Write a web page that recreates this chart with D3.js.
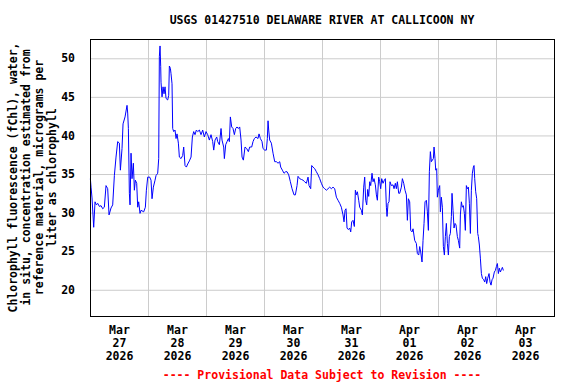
<!DOCTYPE html>
<html>
<head>
    <meta charset="utf-8">
    <style>
        body { margin: 0; background: #fff; }
        text { font-family: "DejaVu Sans Mono", monospace; font-weight: bold; }
    </style>
</head>
<body>
    <script src="https://cdn.jsdelivr.net/npm/d3@7"></script>
    <script>
        var chartTitle = "USGS 01427510 DELAWARE RIVER AT CALLICOON NY";
        var yTitleLines = [
            "Chlorophyll fluorescence (fChl), water,",
            "in situ, concentration estimated from",
            "reference material, micrograms per",
            "liter as chlorophyll"
        ];
        var footnote = "---- Provisional Data Subject to Revision ----";
        var dayLabels = ["Mar 27 2026", "Mar 28 2026", "Mar 29 2026", "Mar 30 2026",
                         "Mar 31 2026", "Apr 01 2026", "Apr 02 2026", "Apr 03 2026"];
        var yTicks = [20, 25, 30, 35, 40, 45, 50];

        // hours after 2026-03-27 00:00, and the reading at that time
        var hours = [
            0.15, 0.43, 0.84, 1.53, 2.08, 2.63, 3.19, 3.88, 4.57, 5.26, 5.94, 6.63, 7.32, 7.88,
            8.70, 9.39, 10.08, 10.77, 11.46, 12.15, 12.57, 13.25, 13.67, 14.50, 15.32, 15.60,
            15.88, 16.29, 16.57, 16.98, 17.39, 17.94, 18.36, 18.77, 19.32, 19.74, 20.15, 20.70,
            21.12, 22.22, 22.91, 23.33, 23.88, 24.70, 25.25, 25.67, 26.22, 26.91, 27.32, 28.01,
            28.43, 28.70, 28.98, 29.26, 29.39, 29.81, 30.22, 30.63, 31.05, 31.46, 32.15, 32.57,
            32.84, 33.26, 33.53, 33.94, 34.22, 34.63, 35.18, 35.60, 36.01, 36.57, 36.98, 37.67,
            38.36, 38.77, 39.32, 39.88, 40.43, 41.12, 41.81, 42.36, 42.91, 43.46, 44.01, 44.57,
            45.26, 45.94, 46.63, 47.32, 48.01, 48.70, 49.39, 50.08, 50.77, 51.19, 51.74, 52.43,
            52.84, 53.53, 54.22, 54.63, 55.32, 55.60, 56.15, 56.70, 57.26, 57.67, 58.08, 58.63,
            59.18, 59.74, 60.29, 60.84, 61.39, 61.94, 62.50, 62.91, 63.46, 64.15, 64.84, 65.53,
            66.08, 66.91, 67.46, 68.01, 68.70, 69.53, 69.94, 70.50, 71.18, 71.60, 72.29, 72.98,
            73.39, 73.67, 73.94, 74.36, 75.05, 75.74, 76.43, 77.12, 77.81, 78.50, 78.91, 79.60,
            80.29, 80.98, 81.53, 82.22, 82.91, 83.60, 84.43, 84.98, 85.67, 86.08, 86.77, 87.46,
            88.15, 88.84, 89.53, 90.22, 90.63, 91.32, 91.74, 92.29, 92.98, 93.67, 94.36, 95.05,
            95.74, 96.43, 97.12, 97.81, 98.50, 99.18, 99.88, 100.56, 101.25, 101.95, 102.63,
            103.32, 104.01, 104.70, 105.12, 105.53, 105.94, 106.36, 106.91, 107.46, 107.88,
            108.29, 108.84, 109.39, 109.81, 110.22, 110.64, 111.19, 111.60, 112.29, 112.70,
            113.25, 113.67, 114.08, 114.50, 114.91, 115.32, 115.74, 116.15, 116.70, 117.12,
            117.53, 118.08, 118.50, 118.91, 119.46, 119.87, 120.29, 120.70, 121.25, 121.81,
            122.22, 122.64, 122.91, 123.32, 123.74, 124.15, 124.70, 125.39, 125.81, 126.36,
            126.77, 127.19, 127.74, 128.15, 128.84, 129.26, 129.81, 130.36, 130.91, 131.33,
            131.74, 132.29, 132.70, 133.25, 133.67, 134.36, 135.05, 135.46, 136.01, 136.43,
            136.84, 137.39, 137.81, 138.22, 138.63, 139.19, 139.60, 140.02, 140.43, 140.84,
            141.26, 141.67, 142.08, 142.36, 142.77, 143.05, 143.46, 143.74, 144.15, 144.70,
            144.98, 145.39, 145.81, 146.22, 146.64, 147.05, 147.46, 147.88, 148.29, 148.70,
            149.12, 149.53, 149.80, 150.22, 150.63, 151.05, 151.46, 152.01, 152.43, 152.98,
            153.26, 153.67, 154.08, 154.50, 154.91, 155.32, 155.74, 156.15, 156.57, 156.98,
            157.40, 157.81, 158.22, 158.64, 158.91, 159.19, 159.60, 160.01, 160.43, 160.70,
            161.12, 161.53, 161.95, 162.36, 162.91, 163.33, 163.74, 164.15, 164.57, 165.12,
            165.53, 165.95, 166.36, 166.77, 167.32, 167.74, 168.15, 168.57, 168.98, 169.39,
            169.81, 170.22, 170.64, 171.05
        ];
        var chl = [
            34.4, 33.3, 31.9, 28.1, 31.4, 31.0, 31.2, 30.8, 30.9, 30.5, 30.7, 33.5, 33.1, 29.7,
            30.6, 31.0, 34.8, 37.2, 39.2, 39.0, 35.5, 38.3, 41.5, 42.4, 43.9, 42.9,
            40.9, 32.5, 31.0, 37.7, 34.4, 36.4, 32.9, 34.2, 33.8, 30.7, 31.4, 29.9,
            30.3, 30.1, 30.7, 32.9, 34.6, 34.6, 34.2, 31.8, 33.3, 34.2, 34.8, 35.1,
            37.0, 50.2, 51.6, 48.9, 46.9, 45.0, 46.3, 45.4, 46.3, 44.8, 44.6, 45.2,
            49.0, 48.7, 48.0, 46.7, 40.9, 40.5, 40.7, 39.6, 40.2, 39.0, 37.2, 37.0,
            37.4, 38.5, 36.1, 35.9, 36.3, 36.7, 37.2, 39.8, 40.5, 40.1, 40.7, 40.5,
            40.7, 40.1, 40.7, 39.8, 40.5, 40.1, 39.4, 40.1, 39.2, 38.1, 39.4, 39.8,
            39.2, 38.8, 40.9, 39.4, 38.5, 37.0, 38.8, 39.2, 39.6, 39.2, 42.4, 41.1,
            40.9, 40.1, 40.9, 41.1, 40.9, 41.1, 39.4, 37.2, 36.8, 38.5, 38.3, 37.9,
            38.5, 38.5, 39.2, 39.6, 39.8, 39.6, 40.2, 39.6, 39.2, 38.3, 38.1, 38.1,
            39.6, 41.9, 40.7, 39.4, 39.0, 37.7, 36.6, 36.6, 36.4, 36.6, 35.9, 35.5,
            35.1, 35.3, 35.3, 34.9, 34.0, 33.1, 32.3, 32.3, 33.5, 34.7, 34.4, 34.3,
            34.2, 34.0, 33.8, 34.6, 33.5, 33.1, 36.1, 35.9, 35.7, 35.3, 34.9, 34.4,
            33.8, 33.3, 33.1, 32.9, 33.1, 33.3, 33.1, 33.3, 33.1, 32.0, 31.6,
            31.2, 30.7, 29.7, 28.8, 30.3, 30.5, 28.0, 27.8, 28.0, 27.5,
            28.8, 29.0, 28.2, 32.9, 32.3, 32.7, 31.6, 30.7, 30.3, 29.7,
            33.3, 34.6, 31.6, 31.0, 33.0, 32.1, 34.0, 33.5, 35.1, 34.0,
            34.4, 33.6, 32.3, 31.6, 34.6, 34.0, 33.1, 34.4, 33.8, 34.2,
            34.4, 30.7, 29.5, 31.2, 31.4, 34.0, 33.5, 33.6, 33.1, 33.8,
            33.1, 34.0, 32.5, 32.5, 33.3, 34.4, 33.8, 32.9, 32.3, 29.0,
            31.8, 31.4, 27.7, 27.5, 27.9, 26.4, 26.0, 24.7, 24.5, 25.6,
            24.9, 23.6, 26.4, 28.6, 31.4, 31.6, 30.1, 27.7, 35.3, 37.9,
            36.6, 36.8, 37.0, 38.5, 37.0, 35.5, 35.7, 32.0, 32.9, 33.5,
            30.1, 32.0, 30.7, 25.6, 24.5, 26.9, 28.6, 26.0, 24.5, 26.9,
            27.3, 29.5, 32.5, 30.3, 28.0, 28.6, 28.4, 26.9, 26.4, 25.4,
            29.7, 31.4, 30.7, 30.9, 29.9, 27.7, 33.5, 33.1, 33.3, 31.2,
            27.3, 32.9, 35.1, 35.9, 36.1, 34.4, 32.7, 31.8, 27.3, 26.9,
            25.8, 24.1, 22.1, 21.5, 21.3, 21.0, 21.7, 20.8, 21.5, 22.1,
            21.0, 20.6, 21.3, 21.5, 22.3, 22.5, 23.0, 23.4, 22.1, 22.8,
            22.3, 22.6, 22.9, 22.5
        ];

        var width = 576, height = 384;
        var margin = { left: 90, top: 39, right: 22, bottom: 68 };
        var plotW = width - margin.left - margin.right;
        var plotH = height - margin.top - margin.bottom;

        var start = new Date(2026, 2, 27);
        var end = new Date(2026, 3, 4);
        function hourDate(h) { return new Date(start.getTime() + h * 3600000); }

        var data = hours.map(function (h, i) { return { t: hourDate(h), v: chl[i] }; });

        var x = d3.scaleTime().domain([start, end]).range([0, plotW]);
        var y = d3.scaleLinear().domain([16.6, 52.5]).range([plotH, 0]);

        var svg = d3.select("body").append("svg")
            .attr("width", width)
            .attr("height", height);

        var g = svg.append("g")
            .attr("transform", "translate(" + margin.left + "," + margin.top + ")");

        // grid
        var midnights = d3.timeDay.range(d3.timeDay.offset(start, 1), end);
        var xGrid = g.append("g")
            .attr("transform", "translate(0," + plotH + ")")
            .call(d3.axisBottom(x).tickValues(midnights).tickSize(-plotH).tickFormat(""));
        var yGrid = g.append("g")
            .call(d3.axisLeft(y).tickValues(yTicks).tickSize(-plotW).tickFormat(""));
        [xGrid, yGrid].forEach(function (ax) {
            ax.select(".domain").remove();
            ax.selectAll(".tick line").attr("stroke", "#cccccc").attr("stroke-width", 1);
        });

        // data line
        var line = d3.line()
            .x(function (d) { return x(d.t); })
            .y(function (d) { return y(d.v); });
        g.append("path")
            .datum(data)
            .attr("fill", "none")
            .attr("stroke", "#0000ff")
            .attr("stroke-width", 1)
            .attr("d", line);

        // frame
        g.append("rect")
            .attr("x", 0.5).attr("y", 0.5)
            .attr("width", plotW).attr("height", plotH)
            .attr("fill", "none")
            .attr("stroke", "black")
            .attr("stroke-width", 1);

        // y labels
        var yAxis = g.append("g")
            .call(d3.axisLeft(y).tickValues(yTicks).tickSize(0).tickPadding(15));
        yAxis.select(".domain").remove();
        yAxis.selectAll("text")
            .attr("font-family", "DejaVu Sans Mono")
            .attr("font-weight", "bold")
            .attr("font-size", 11.5)
            .attr("fill", "black");

        // x labels at noon, three lines each
        var noons = dayLabels.map(function (s, i) { return new Date(2026, 2, 27 + i, 12); });
        var xAxis = g.append("g")
            .attr("transform", "translate(0," + plotH + ")")
            .call(d3.axisBottom(x).tickValues(noons).tickSize(0).tickFormat(""));
        xAxis.select(".domain").remove();
        xAxis.selectAll(".tick").each(function (d, i) {
            var parts = dayLabels[i].split(" ");
            var t = d3.select(this).select("text")
                .attr("y", 0)
                .attr("dy", null)
                .attr("font-family", "DejaVu Sans Mono")
                .attr("font-weight", "bold")
                .attr("font-size", 11.5)
                .attr("fill", "black")
                .attr("text-anchor", "middle");
            parts.forEach(function (p, k) {
                t.append("tspan").attr("x", 0).attr("y", 18 + k * 13).text(p);
            });
        });

        // title
        svg.append("text")
            .attr("x", margin.left + plotW / 2)
            .attr("y", 24)
            .attr("text-anchor", "middle")
            .attr("font-size", 11.5)
            .text(chartTitle);

        // y title
        var yt = svg.append("text")
            .attr("transform", "translate(17," + (margin.top + plotH / 2) + ") rotate(-90)")
            .attr("text-anchor", "middle")
            .attr("font-size", 11.5);
        yTitleLines.forEach(function (s, k) {
            yt.append("tspan").attr("x", 0).attr("y", k * 13).text(s);
        });

        // footnote
        svg.append("text")
            .attr("x", margin.left + plotW / 2)
            .attr("y", 379)
            .attr("text-anchor", "middle")
            .attr("font-size", 11.5)
            .attr("fill", "#ff0000")
            .text(footnote);
    </script>
</body>
</html>
